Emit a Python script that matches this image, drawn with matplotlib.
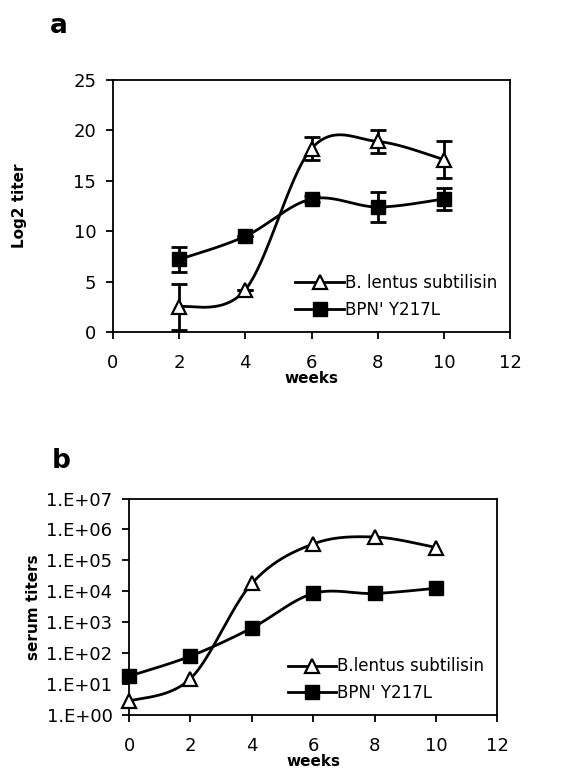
import matplotlib
matplotlib.use('Agg')
import matplotlib.pyplot as plt
import numpy as np

# panel a data (log2 titer)
weeks_a = [2, 4, 6, 8, 10]
lentus_a = [2.5, 4.2, 18.2, 18.9, 17.1]
lentus_a_err = [2.3, 0.0, 1.1, 1.1, 1.8]
bpn_a = [7.2, 9.5, 13.2, 12.4, 13.2]
bpn_a_err = [1.2, 0.0, 0.3, 1.5, 1.1]

# panel b data (serum titers)
weeks_b = [0, 2, 4, 6, 8, 10]
lentus_b = [2.8, 15, 1.8e4, 3.4e5, 5.7e5, 2.6e5]
bpn_b = [18, 80, 650, 8500, 8500, 1.25e4]

ytick_labels_b = ['1.E+00', '1.E+01', '1.E+02', '1.E+03', '1.E+04', '1.E+05', '1.E+06', '1.E+07']


def smooth(x, y, n=40):
    # excel-like smoothed line: bezier with catmull-rom control points
    x = np.asarray(x, float)
    y = np.asarray(y, float)
    px, py = [], []
    for i in range(len(x) - 1):
        i0 = max(i - 1, 0)
        i3 = min(i + 2, len(x) - 1)
        c1x = x[i] + (x[i + 1] - x[i0]) / 6
        c1y = y[i] + (y[i + 1] - y[i0]) / 6
        c2x = x[i + 1] - (x[i3] - x[i]) / 6
        c2y = y[i + 1] - (y[i3] - y[i]) / 6
        t = np.linspace(0, 1, n)
        b0 = (1 - t) ** 3
        b1 = 3 * (1 - t) ** 2 * t
        b2 = 3 * (1 - t) * t ** 2
        b3 = t ** 3
        px.extend(b0 * x[i] + b1 * c1x + b2 * c2x + b3 * x[i + 1])
        py.extend(b0 * y[i] + b1 * c1y + b2 * c2y + b3 * y[i + 1])
    return np.array(px), np.array(py)


plt.rcParams['font.family'] = ['DejaVu Sans']
fig = plt.figure(figsize=(5.79, 7.76), dpi=100)

tri = dict(marker='^', markersize=10, markerfacecolor='white', markeredgecolor='black',
           markeredgewidth=1.6, color='black', lw=2)
sq = dict(marker='s', markersize=10, markerfacecolor='black', markeredgecolor='black',
          color='black', lw=2)

# ---- panel a ----
ax1 = fig.add_axes([0.195, 0.572, 0.686, 0.325])
sx, sy = smooth(weeks_a, lentus_a)
ax1.plot(sx, sy, color='black', lw=2, zorder=2)
sx, sy = smooth(weeks_a, bpn_a)
ax1.plot(sx, sy, color='black', lw=2, zorder=2)
ax1.errorbar(weeks_a, bpn_a, yerr=bpn_a_err, fmt='none', ecolor='black', elinewidth=2,
             capsize=6, capthick=2, zorder=3)
ax1.errorbar(weeks_a, lentus_a, yerr=lentus_a_err, fmt='none', ecolor='black', elinewidth=2,
             capsize=6, capthick=2, zorder=3)
ax1.plot([], [], label='B. lentus subtilisin', **tri)
ax1.plot([], [], label="BPN' Y217L", **sq)
ax1.plot(weeks_a, lentus_a, ls='none', marker='^', markersize=10, markerfacecolor='white',
         markeredgecolor='black', markeredgewidth=1.6, zorder=4)
ax1.plot(weeks_a, bpn_a, ls='none', marker='s', markersize=10, color='black', zorder=4)
ax1.set_xlim(0, 12)
ax1.set_ylim(0, 25)
ax1.set_xticks(range(0, 13, 2))
ax1.set_yticks(range(0, 26, 5))
ax1.set_xlabel('weeks', fontsize=11, fontweight='bold', labelpad=-1)
ax1.set_ylabel('Log2 titer', fontsize=11, fontweight='bold', labelpad=33)
ax1.legend(loc='lower right', frameon=False, fontsize=12, handlelength=2.9,
           handletextpad=0.05, borderaxespad=0.4, labelspacing=0.55)
fig.text(0.086, 0.957, 'a', fontsize=19, fontweight='bold', va='baseline')

# ---- panel b ----
ax2 = fig.add_axes([0.223, 0.0786, 0.636, 0.279])
sx, sy = smooth(weeks_b, np.log10(lentus_b))
ax2.plot(sx, 10 ** sy, color='black', lw=2, zorder=2)
sx, sy = smooth(weeks_b, np.log10(bpn_b))
ax2.plot(sx, 10 ** sy, color='black', lw=2, zorder=2)
ax2.plot([], [], label='B.lentus subtilisin', **tri)
ax2.plot([], [], label="BPN' Y217L", **sq)
ax2.plot(weeks_b, lentus_b, ls='none', marker='^', markersize=10, markerfacecolor='white',
         markeredgecolor='black', markeredgewidth=1.6, zorder=4, clip_on=False)
ax2.plot(weeks_b, bpn_b, ls='none', marker='s', markersize=10, color='black', zorder=4,
         clip_on=False)
ax2.set_yscale('log')
ax2.set_xlim(0, 12)
ax2.set_ylim(1, 1e7)
ax2.set_xticks(range(0, 13, 2))
ax2.set_yticks([10 ** i for i in range(8)])
ax2.set_yticklabels(ytick_labels_b)
ax2.minorticks_off()
ax2.set_xlabel('weeks', fontsize=11, fontweight='bold', labelpad=-1)
ax2.set_ylabel('serum titers', fontsize=11, fontweight='bold', labelpad=4)
ax2.legend(loc='lower right', frameon=False, fontsize=12, handlelength=2.9,
           handletextpad=0.05, borderaxespad=0.4, labelspacing=0.5)
fig.text(0.09, 0.397, 'b', fontsize=19, fontweight='bold', va='baseline')

for ax in (ax1, ax2):
    for s in ax.spines.values():
        s.set_linewidth(1.3)
    ax.tick_params(direction='out', length=5, width=1.3, labelsize=13, pad=7)
    ax.tick_params(axis='x', pad=11)

fig.savefig('out.png', dpi=100)
